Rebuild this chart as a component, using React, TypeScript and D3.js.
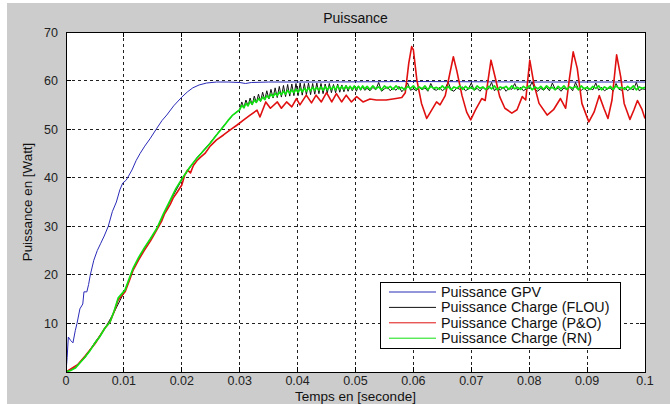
import React from "react";
import * as d3 from "d3";

const W = 670;
const H = 404;
const PLOT = { left: 66, right: 645, top: 32, bottom: 372 };

const xTicks = [0, 0.01, 0.02, 0.03, 0.04, 0.05, 0.06, 0.07, 0.08, 0.09, 0.1];
const xTickLabels = ["0", "0.01", "0.02", "0.03", "0.04", "0.05", "0.06", "0.07", "0.08", "0.09", "0.1"];
const yTicks = [10, 20, 30, 40, 50, 60, 70];
const yTickLabels = ["10", "20", "30", "40", "50", "60", "70"];
const gridY = [10, 20, 30, 40, 50, 60];
const gridX = [0.01, 0.02, 0.03, 0.04, 0.05, 0.06, 0.07, 0.08, 0.09];

const legendLabels = [
  "Puissance GPV",
  "Puissance Charge (FLOU)",
  "Puissance Charge (P&O)",
  "Puissance Charge (RN)",
];
const seriesColors = ["#2a2ab8", "#111111", "#e01010", "#10e010"];
const seriesWidths = [1, 1, 1.6, 1.7];

// Puissance GPV [t, P]
const gpvPoints: [number, number][] = [
  [0, 0], [0.0002, 3], [0.0004, 7.2], [0.0008, 6.5], [0.0012, 6], [0.0016, 8.5], [0.0019, 10],
  [0.0024, 13], [0.0029, 14], [0.0031, 16.5], [0.0036, 16.5], [0.0039, 18], [0.0042, 20],
  [0.0048, 23], [0.0054, 25], [0.006, 26.5], [0.0066, 28], [0.0073, 30], [0.008, 33],
  [0.0087, 35], [0.0093, 37.5], [0.0098, 38.9], [0.0104, 39.5], [0.0114, 41.6], [0.0121, 43.5],
  [0.0128, 45], [0.0136, 46.5], [0.0145, 48], [0.0157, 50.2], [0.0166, 51.8], [0.0174, 52.9],
  [0.0186, 54.8], [0.02, 56.6], [0.021, 57.7], [0.0219, 58.5], [0.023, 59.1], [0.0243, 59.5],
  [0.026, 59.7], [0.028, 59.7], [0.03, 59.6], [0.031, 59.4], [0.032, 59.6], [0.035, 59.7],
  [0.045, 59.7], [0.06, 59.8], [0.08, 59.7], [0.1, 59.7],
];

// Puissance Charge (FLOU) : rise, ripple (dt 0.00036 from 0.03), tail (dt 0.0005 from 0.052)
const flouRise: [number, number][] = [
  [0, 0], [0.0016, 0.9], [0.0033, 3.0], [0.005, 6.1], [0.0067, 8.9], [0.0083, 12.3],
  [0.0102, 16.8], [0.0116, 21.2], [0.0135, 25.4], [0.0157, 29.5], [0.018, 35.2],
  [0.0202, 40.0], [0.0226, 44.1], [0.0249, 47.2], [0.0271, 50.5], [0.0288, 52.9],
];
const flouOsc = [
  54.0, 55.6, 54.4, 56.0, 54.8, 56.4, 55.0, 56.8, 55.4, 57.2,
  55.7, 57.6, 56.0, 57.9, 56.2, 58.2, 56.4, 58.5, 56.5, 58.8,
  56.6, 59.0, 56.7, 59.2, 56.8, 59.3, 56.9, 59.4, 56.9, 59.5,
  57.0, 59.4, 57.1, 59.5, 57.1, 59.4, 57.2, 59.5, 57.3, 59.4,
  57.3, 59.3, 57.4, 59.4, 57.5, 59.2, 57.5, 59.3, 57.6, 59.1,
  57.7, 59.0, 57.8, 58.9, 57.9, 58.8, 57.8, 58.9, 58.0, 58.7,
  58.0,
];
const flouTail = [
  58.4, 57.9, 58.6, 58.1, 59.6, 57.8, 58.3, 58.7, 57.9, 58.5,
  58.0, 58.8, 57.7, 58.4, 59.5, 58.0, 58.3, 57.9, 58.6, 58.1,
  58.5, 57.8, 59.4, 58.2, 58.0, 58.6, 57.9, 58.4, 59.7, 58.1,
  57.8, 58.5, 58.2, 58.7, 57.9, 58.3, 59.5, 58.0, 58.4, 57.8,
  58.6, 58.1, 58.3, 59.6, 57.9, 58.5, 58.0, 58.7, 57.8, 58.4,
  58.2, 59.4, 58.0, 58.6, 57.9, 58.3, 58.5, 59.7, 58.1, 57.8,
  58.4, 58.0, 58.6, 57.9, 59.5, 58.2, 58.4, 57.8, 58.5, 58.1,
  58.7, 57.9, 59.6, 58.3, 58.0, 58.5, 57.8, 58.4, 58.1, 59.5,
  58.0, 58.6, 57.9, 58.3, 58.5, 57.8, 59.4, 58.2, 58.0, 58.6,
  57.9, 58.4, 58.1, 59.6, 57.9, 58.3, 58.2,
];

// Puissance Charge (P&O) [t, P]
const poPoints: [number, number][] = [
  [0, 0], [0.002, 1.5], [0.0033, 3.3], [0.005, 5.8], [0.0067, 9], [0.0076, 10.3], [0.0085, 13],
  [0.009, 14.8], [0.0102, 16.5], [0.011, 19], [0.0116, 21], [0.0125, 23], [0.0135, 25],
  [0.0146, 27], [0.0157, 29.3], [0.0165, 31], [0.017, 32.5], [0.0175, 33.5], [0.018, 34.5],
  [0.0185, 35.8], [0.0192, 37], [0.02, 38.5], [0.0205, 40.5], [0.021, 41.6], [0.0215, 41],
  [0.022, 42.5], [0.0226, 43.5], [0.0232, 44.2], [0.024, 45], [0.0249, 46.5], [0.026, 47.8],
  [0.0272, 48.8], [0.0283, 49.8], [0.0295, 50.8], [0.0307, 51.9], [0.0318, 52.9], [0.033, 53.9],
  [0.0335, 52.5], [0.0345, 55.6], [0.0353, 54.3], [0.0365, 55.6], [0.0372, 54.3], [0.0381, 55.6],
  [0.039, 54.6], [0.0398, 56.3], [0.0404, 55], [0.0415, 57], [0.0424, 55.4], [0.0432, 57],
  [0.0441, 55.6], [0.045, 57.5], [0.0459, 55.6], [0.0467, 57.3], [0.0476, 55.6], [0.0484, 57],
  [0.0493, 55.6], [0.0502, 56.7], [0.0513, 55.6], [0.0525, 56.2], [0.0536, 56], [0.0553, 56],
  [0.057, 56.3], [0.058, 56.5], [0.0586, 57.5], [0.0592, 63.6], [0.0597, 67], [0.06, 66.3],
  [0.0606, 60.1], [0.0614, 55.3], [0.0623, 52.2], [0.0632, 54], [0.064, 55.6], [0.0646, 55],
  [0.0655, 56.9], [0.0663, 61.5], [0.0669, 64.9], [0.0675, 62], [0.0684, 56.9], [0.0692, 53.5],
  [0.0699, 51.9], [0.0707, 53.9], [0.0718, 56.3], [0.0724, 55.9], [0.0729, 60.1], [0.0734, 64.2],
  [0.0741, 60.8], [0.0749, 56.7], [0.0758, 54.3], [0.077, 53.3], [0.0779, 54], [0.0788, 56.7],
  [0.0794, 56], [0.0801, 64.2], [0.0808, 59.4], [0.0817, 55.3], [0.0831, 52.9], [0.0842, 54],
  [0.0854, 56.3], [0.0863, 54.3], [0.0869, 60], [0.0876, 65.9], [0.0883, 62.5], [0.0891, 55.3],
  [0.0903, 51.5], [0.0912, 53.5], [0.0921, 56.9], [0.0929, 54.3], [0.0936, 52.2], [0.0943, 56],
  [0.0951, 65.3], [0.0958, 60.8], [0.0964, 55.3], [0.0974, 52], [0.0981, 54], [0.0987, 55.9],
  [0.0995, 54], [0.1, 52.2],
];

// Puissance Charge (RN)
const rnRise: [number, number][] = [
  [0, 0], [0.0008, 0.3], [0.0016, 0.8], [0.0025, 2], [0.0033, 3.1], [0.0042, 4.5], [0.005, 6],
  [0.0058, 7.2], [0.0067, 9], [0.0076, 10.3], [0.0083, 12.5], [0.009, 15.2], [0.0102, 16.9],
  [0.011, 19.5], [0.0116, 21.4], [0.0125, 23.5], [0.0135, 25.5], [0.0146, 27.5], [0.0157, 29.6],
  [0.0168, 32.5], [0.018, 35.4], [0.019, 37.8], [0.0202, 40.1], [0.0214, 42.2], [0.0226, 44],
  [0.0238, 45.6], [0.0249, 47.1], [0.026, 48.8], [0.0271, 50.4], [0.028, 51.8], [0.0288, 52.9],
];
const rnOsc = [
  54.0, 54.9, 54.4, 55.3, 54.8, 55.7, 55.1, 56.0, 55.5, 56.3,
  55.8, 56.6, 56.1, 56.9, 56.4, 57.2, 56.7, 57.4, 56.9, 57.6,
  57.1, 57.8, 57.2, 58.0, 57.4, 58.1, 57.5, 58.2, 57.6, 58.3,
  57.7, 58.4, 57.8, 58.5, 57.9, 58.6, 58.0, 58.6, 58.0, 58.7,
  58.0, 58.8, 58.1, 58.7, 58.2, 58.8, 58.1, 58.9, 58.2, 58.8,
  58.2, 58.9, 58.3, 58.8, 58.2, 58.9, 58.3, 58.8, 58.2, 58.9,
  58.3,
];
const rnTail = [
  58.8, 58.2, 58.9, 58.3, 58.7, 58.1, 58.9, 58.4, 58.8, 58.2,
  58.9, 58.3, 58.6, 58.1, 58.8, 58.4, 58.9, 58.2, 58.7, 58.3,
  58.9, 58.1, 58.8, 58.4, 58.6, 58.2, 58.9, 58.3, 58.8, 58.1,
  58.7, 58.4, 58.9, 58.2, 58.8, 58.3, 58.6, 58.1, 58.9, 58.4,
  58.7, 58.2, 58.8, 58.3, 58.9, 58.1, 58.7, 58.4, 58.8, 58.2,
  58.9, 58.3, 58.6, 58.2, 58.8, 58.4, 58.9, 58.1, 58.7, 58.3,
  58.8, 58.2, 58.9, 58.4, 58.6, 58.1, 58.8, 58.3, 58.9, 58.2,
  58.7, 58.4, 58.8, 58.1, 58.9, 58.3, 58.6, 58.2, 58.8, 58.4,
  58.9, 58.1, 58.7, 58.3, 58.8, 58.2, 58.9, 58.4, 58.6, 58.2,
  58.8, 58.3, 58.9, 58.1, 58.7, 58.4, 58.6,
];

const OSC_T0 = 0.03;
const OSC_DT = 0.00036;
const TAIL_T0 = 0.052;
const TAIL_DT = 0.0005;

function sampled(t0: number, dt: number, vals: number[]): [number, number][] {
  return vals.map((v, i) => [t0 + i * dt, v]);
}

const FONT = "'Liberation Sans', Arial, Helvetica, sans-serif";

export default function App() {
  const x = d3.scaleLinear().domain([0, 0.1]).range([PLOT.left, PLOT.right]);
  const y = d3.scaleLinear().domain([0, 70]).range([PLOT.bottom, PLOT.top]);
  const line = d3
    .line<[number, number]>()
    .x((d) => x(d[0]))
    .y((d) => y(d[1]));

  const series: [number, number][][] = [
    gpvPoints,
    [...flouRise, ...sampled(OSC_T0, OSC_DT, flouOsc), ...sampled(TAIL_T0, TAIL_DT, flouTail)],
    poPoints,
    [...rnRise, ...sampled(OSC_T0, OSC_DT, rnOsc), ...sampled(TAIL_T0, TAIL_DT, rnTail)],
  ];

  const pw = PLOT.right - PLOT.left;
  const ph = PLOT.bottom - PLOT.top;
  const cx = (PLOT.left + PLOT.right) / 2;
  const tickLen = 5;

  const legX = 380;
  const legY = 282;
  const legW = 240;
  const legH = 66;
  const rowH = 15.4;

  return (
    <svg
      width={W}
      height={H}
      style={{ position: "absolute", left: 0, top: 0, display: "block" }}
      fontFamily={FONT}
    >
      <rect x={0} y={0} width={W} height={H} fill="#ffffff" />
      <rect x={7} y={3} width={W - 7} height={H - 3} fill="#cccccc" />
      <defs>
        <clipPath id="plotclip">
          <rect x={PLOT.left} y={PLOT.top} width={pw} height={ph} />
        </clipPath>
      </defs>
      <rect x={PLOT.left} y={PLOT.top} width={pw} height={ph} fill="#ffffff" />

      {/* grid */}
      <g stroke="#222" strokeWidth={1} strokeDasharray="3,3" shapeRendering="crispEdges">
        {gridY.map((v) => (
          <line key={"gy" + v} x1={PLOT.left} x2={PLOT.right} y1={y(v)} y2={y(v)} />
        ))}
        {gridX.map((v) => (
          <line key={"gx" + v} x1={x(v)} x2={x(v)} y1={PLOT.top} y2={PLOT.bottom} />
        ))}
      </g>

      {/* ticks inside */}
      <g stroke="#000" strokeWidth={1} shapeRendering="crispEdges">
        {xTicks.map((v) => (
          <g key={"xt" + v}>
            <line x1={x(v)} x2={x(v)} y1={PLOT.bottom} y2={PLOT.bottom - tickLen} />
            <line x1={x(v)} x2={x(v)} y1={PLOT.top} y2={PLOT.top + tickLen} />
          </g>
        ))}
        {yTicks.map((v) => (
          <g key={"yt" + v}>
            <line x1={PLOT.left} x2={PLOT.left + tickLen} y1={y(v)} y2={y(v)} />
            <line x1={PLOT.right} x2={PLOT.right - tickLen} y1={y(v)} y2={y(v)} />
          </g>
        ))}
      </g>

      {/* series */}
      <g clipPath="url(#plotclip)" fill="none" strokeLinejoin="round">
        {series.map((s, i) => (
          <path key={"s" + i} d={line(s) || ""} stroke={seriesColors[i]} strokeWidth={seriesWidths[i]} />
        ))}
      </g>

      <rect
        x={PLOT.left}
        y={PLOT.top}
        width={pw}
        height={ph}
        fill="none"
        stroke="#000"
        strokeWidth={1}
        shapeRendering="crispEdges"
      />

      {/* tick labels */}
      <g fill="#222" fontSize={12.5}>
        {xTicks.map((v, i) => (
          <text key={"xl" + v} x={x(v)} y={PLOT.bottom + 13} textAnchor="middle">
            {xTickLabels[i]}
          </text>
        ))}
        {yTicks.map((v, i) => (
          <text key={"yl" + v} x={PLOT.left - 8} y={y(v) + 4.5} textAnchor="end">
            {yTickLabels[i]}
          </text>
        ))}
      </g>

      {/* titles */}
      <text x={cx} y={23} textAnchor="middle" fontSize={14} fill="#111">
        Puissance
      </text>
      <text x={cx} y={401} textAnchor="middle" fontSize={13.5} fill="#111">
        Temps en [seconde]
      </text>
      <text
        transform={`translate(32, ${(PLOT.top + PLOT.bottom) / 2}) rotate(-90)`}
        textAnchor="middle"
        fontSize={13.4}
        fill="#111"
      >
        Puissance en [Watt]
      </text>

      {/* legend */}
      <rect x={legX} y={legY} width={legW} height={legH} fill="#ffffff" stroke="#000" strokeWidth={1} shapeRendering="crispEdges" />
      {legendLabels.map((lab, i) => {
        const ry = legY + 10 + i * rowH;
        return (
          <g key={"lg" + i}>
            <line x1={legX + 9} x2={legX + 56} y1={ry} y2={ry} stroke={seriesColors[i]} strokeWidth={1} />
            <text x={legX + 61} y={ry + 5} fontSize={14.3} fill="#111">
              {lab}
            </text>
          </g>
        );
      })}
    </svg>
  );
}
